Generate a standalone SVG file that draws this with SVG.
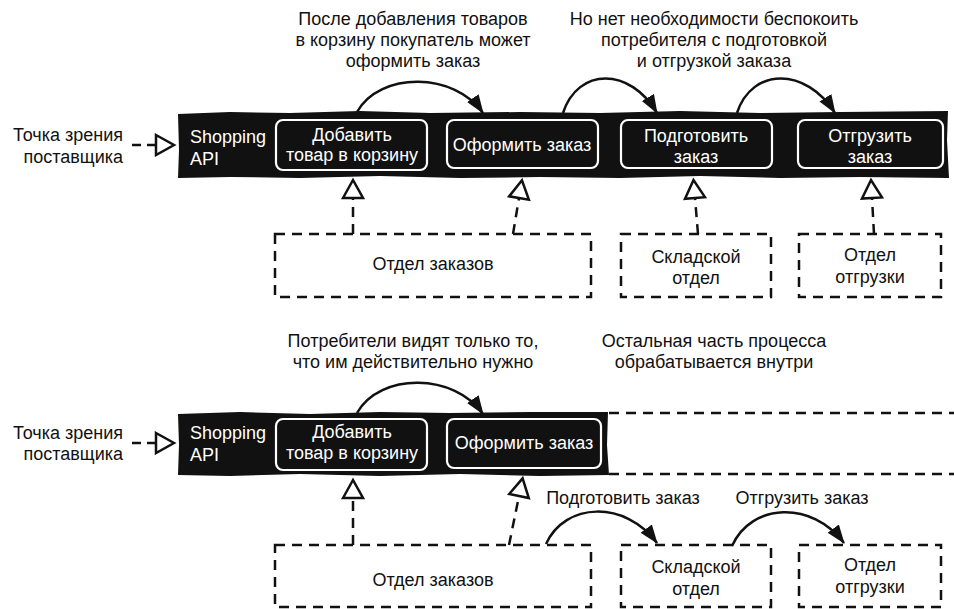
<svg xmlns="http://www.w3.org/2000/svg" width="954" height="609" viewBox="0 0 954 609">
  <defs>
    <style>
      text { font-family: "Liberation Sans", Arial, sans-serif; font-size: 18px; fill: #111; }
      .mid { text-anchor: middle; }
      .end { text-anchor: end; }
      .wt { fill: #fff; }
      .bar { fill: #111; }
      .op { fill: none; stroke: #fff; stroke-width: 2.2; }
      .dash { fill: none; stroke: #111; stroke-width: 2.5; stroke-dasharray: 10 7; }
      .flow { fill: none; stroke: #111; stroke-width: 2.5; }
    </style>
    <marker id="hollow" viewBox="0 0 24 24" refX="2" refY="12" markerWidth="24" markerHeight="24" markerUnits="userSpaceOnUse" orient="auto">
      <path d="M2,2 L20,12 L2,22 Z" fill="#fff" stroke="#111" stroke-width="2.5" stroke-linejoin="miter"/>
    </marker>
    <marker id="solid" viewBox="0 0 20 16" refX="18" refY="8" markerWidth="20" markerHeight="16" markerUnits="userSpaceOnUse" orient="auto">
      <path d="M0,1 L19,8 L0,15 Z" fill="#111"/>
    </marker>
  </defs>

  <!-- ===== Upper view: full process exposed ===== -->
  <g id="note-top-left">
    <text class="mid" x="413" y="25">После добавления товаров</text>
    <text class="mid" x="413" y="46">в корзину покупатель может</text>
    <text class="mid" x="413" y="67">оформить заказ</text>
  </g>
  <g id="note-top-right">
    <text class="mid" x="714" y="25">Но нет необходимости беспокоить</text>
    <text class="mid" x="714" y="46">потребителя с подготовкой</text>
    <text class="mid" x="714" y="67">и отгрузкой заказа</text>
  </g>

  <g id="viewpoint-top">
    <text class="end" x="123" y="141">Точка зрения</text>
    <text class="end" x="123" y="163">поставщика</text>
  </g>

  <g id="api-top">
    <path class="bar" d="M178,114 L230,112 L290,113 L360,111 L430,113 L520,112 L600,113 L680,111 L760,113 L840,112 L948,111 L947,140 L949,178 L860,177 L780,178 L700,176 L620,178 L540,177 L460,178 L380,176 L300,178 L230,177 L178,178 L179,150 Z"/>
    <text class="wt" x="190" y="143">Shopping</text>
    <text class="wt" x="190" y="165">API</text>
  </g>
  <g id="op-add-top">
    <rect class="op" x="276" y="120" width="151" height="50" rx="7"/>
    <text class="wt mid" x="352" y="141">Добавить</text>
    <text class="wt mid" x="352" y="161">товар в корзину</text>
  </g>
  <g id="op-checkout-top">
    <rect class="op" x="447" y="120" width="151" height="48" rx="7"/>
    <text class="wt mid" x="522" y="151">Оформить заказ</text>
  </g>
  <g id="op-prepare-top">
    <rect class="op" x="621" y="120" width="151" height="48" rx="7"/>
    <text class="wt mid" x="696" y="142">Подготовить</text>
    <text class="wt mid" x="696" y="163">заказ</text>
  </g>
  <g id="op-ship-top">
    <rect class="op" x="798" y="120" width="145" height="48" rx="7"/>
    <text class="wt mid" x="870" y="142">Отгрузить</text>
    <text class="wt mid" x="870" y="163">заказ</text>
  </g>

  <g id="dept-orders-top">
    <rect class="dash" x="275" y="234" width="316" height="63"/>
    <text class="mid" x="433" y="270">Отдел заказов</text>
  </g>
  <g id="dept-warehouse-top">
    <rect class="dash" x="621" y="234" width="150" height="63"/>
    <text class="mid" x="696" y="263">Складской</text>
    <text class="mid" x="696" y="284">отдел</text>
  </g>
  <g id="dept-shipping-top">
    <rect class="dash" x="799" y="234" width="142" height="63"/>
    <text class="mid" x="870" y="261">Отдел</text>
    <text class="mid" x="870" y="283">отгрузки</text>
  </g>

  <g id="connectors-top">
    <path class="dash" style="stroke-dasharray: 9 6" d="M132,145 L156,145" marker-end="url(#hollow)"/>
    <path class="flow" d="M357,112 C380,71 455,72 483,113" marker-end="url(#solid)"/>
    <path class="flow" d="M563,113 C578,67 630,67 657,113" marker-end="url(#solid)"/>
    <path class="flow" d="M737,113 C752,67 806,67 835,113" marker-end="url(#solid)"/>
    <path class="dash" d="M353,234 L353,198" marker-end="url(#hollow)"/>
    <path class="dash" d="M513,234 L519,198" marker-end="url(#hollow)"/>
    <path class="dash" d="M698,234 L695,198" marker-end="url(#hollow)"/>
    <path class="dash" d="M874,234 L872,198" marker-end="url(#hollow)"/>
  </g>

  <!-- ===== Lower view: only the public part exposed ===== -->
  <g id="note-bottom-left">
    <text class="mid" x="413" y="347">Потребители видят только то,</text>
    <text class="mid" x="413" y="368">что им действительно нужно</text>
  </g>
  <g id="note-bottom-right">
    <text class="mid" x="714" y="347">Остальная часть процесса</text>
    <text class="mid" x="714" y="368">обрабатывается внутри</text>
  </g>

  <g id="viewpoint-bottom">
    <text class="end" x="123" y="439">Точка зрения</text>
    <text class="end" x="123" y="460">поставщика</text>
  </g>

  <g id="api-bottom">
    <path class="bar" d="M178,414 L240,412 L310,414 L380,412 L450,413 L530,412 L608,412 L607,445 L609,475 L540,476 L460,474 L380,476 L300,474 L230,476 L178,475 L179,445 Z"/>
    <text class="wt" x="190" y="439">Shopping</text>
    <text class="wt" x="190" y="461">API</text>
  </g>
  <g id="hidden-part">
    <path class="dash" d="M609,413 L954,413"/>
    <path class="dash" d="M609,474 L954,474"/>
  </g>
  <g id="op-add-bottom">
    <rect class="op" x="276" y="419" width="151" height="51" rx="7"/>
    <text class="wt mid" x="352" y="438">Добавить</text>
    <text class="wt mid" x="352" y="459">товар в корзину</text>
  </g>
  <g id="op-checkout-bottom">
    <rect class="op" x="447" y="419" width="154" height="49" rx="7"/>
    <text class="wt mid" x="524" y="449">Оформить заказ</text>
  </g>

  <g id="dept-orders-bottom">
    <rect class="dash" x="275" y="545" width="316" height="62"/>
    <text class="mid" x="433" y="586">Отдел заказов</text>
  </g>
  <g id="dept-warehouse-bottom">
    <rect class="dash" x="621" y="545" width="150" height="62"/>
    <text class="mid" x="696" y="573">Складской</text>
    <text class="mid" x="696" y="595">отдел</text>
  </g>
  <g id="dept-shipping-bottom">
    <rect class="dash" x="799" y="545" width="142" height="62"/>
    <text class="mid" x="870" y="571">Отдел</text>
    <text class="mid" x="870" y="593">отгрузки</text>
  </g>

  <g id="connectors-bottom">
    <path class="dash" style="stroke-dasharray: 9 6" d="M132,443 L156,443" marker-end="url(#hollow)"/>
    <path class="flow" d="M357,413 C380,372 455,373 483,414" marker-end="url(#solid)"/>
    <path class="dash" d="M353,545 L353,498" marker-end="url(#hollow)"/>
    <path class="dash" d="M509,545 L519,496" marker-end="url(#hollow)"/>
    <path class="flow" d="M546,544 C565,502 625,500 657,543" marker-end="url(#solid)"/>
    <path class="flow" d="M732,546 C751,503 812,500 844,543" marker-end="url(#solid)"/>
    <text class="mid" x="623" y="504">Подготовить заказ</text>
    <text class="mid" x="802" y="504">Отгрузить заказ</text>
  </g>
</svg>
